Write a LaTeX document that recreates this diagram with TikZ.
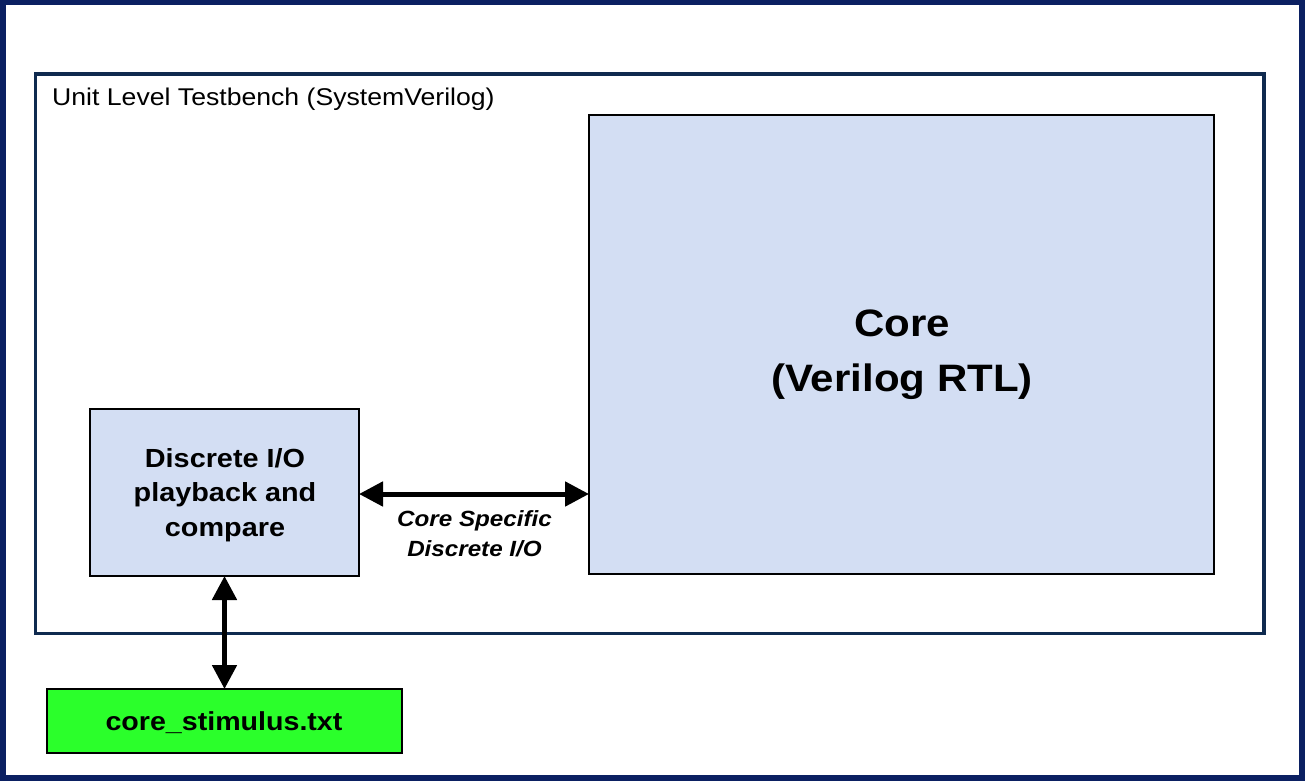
\documentclass[tikz,border=0pt]{standalone}
\usepackage{fontspec}
\setmainfont{Liberation Sans}[FakeStretch=1.1]
\usetikzlibrary{arrows.meta}
\definecolor{outerblue}{HTML}{0B2062}
\definecolor{innerblue}{HTML}{0F2A4F}
\definecolor{boxfill}{HTML}{D3DEF3}
\definecolor{filegreen}{HTML}{2BFF2B}
\tikzset{
  block/.style={draw=black, line width=1.4pt, fill=boxfill, rectangle, inner sep=0pt, outer sep=0pt, align=center},
  filebox/.style={draw=black, line width=1.4pt, fill=filegreen, rectangle, inner sep=0pt, outer sep=0pt},
  link/.style={line width=5pt, {Triangle[length=24pt,width=24pt]}-{Triangle[length=24pt,width=24pt]}, shorten <=0pt, shorten >=0pt},
}
\begin{document}
\begin{tikzpicture}[x=1pt,y=-1pt]
\useasboundingbox (0,0) rectangle (1305,781);
\fill[white] (0,0) rectangle (1305,781);
% outer frame
\draw[outerblue, line width=6pt] (3,2.5) rectangle (1301.5,778);
% testbench frame
\draw[innerblue, line width=3.6pt] (35.5,74) rectangle (1264,633.5);
\node[anchor=base west, inner sep=0pt, font={\fontsize{24.2}{28}\selectfont}] (title) at (52,105.5)
  {Unit Level Testbench (SystemVerilog)};
% core
\node[block, minimum width=625pt, minimum height=459pt] (core) at (901.5,344.5) {};
\node[align=center, inner sep=0pt, font={\fontsize{38.2}{55}\selectfont\bfseries}] (coretext) at (902,355)
  {Core\\(Verilog RTL)};
% discrete
\node[block, minimum width=269pt, minimum height=167pt] (disc) at (224.5,492.5) {};
\node[align=center, inner sep=0pt, font={\fontsize{26.2}{34.5}\selectfont\bfseries}] (disctext) at (225,495)
  {Discrete I/O\\playback and\\compare};
% stimulus file
\node[filebox, minimum width=355pt, minimum height=64pt] (stim) at (224.5,721) {};
\node[inner sep=0pt, font={\fontsize{26}{30}\selectfont\bfseries}] (stimtext) at (224,722.5)
  {core\_stimulus.txt};
% connectors
\draw[link] ([yshift=-1.5pt]disc.east) -- ([yshift=-1.5pt]disc.east -| core.west);
\node[align=center, inner sep=0pt, font={\fontsize{22}{30}\selectfont\bfseries\itshape}] (iolabel) at (474.5,534)
  {Core Specific\\Discrete I/O};
\draw[link] (disc.south) -- (stim.north);
\end{tikzpicture}
\end{document}
